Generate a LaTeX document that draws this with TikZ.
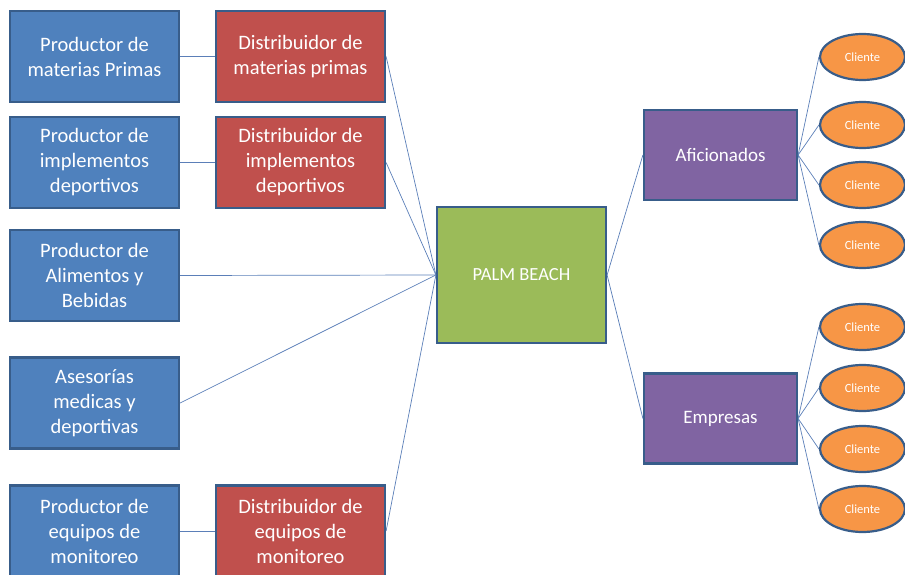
\documentclass[tikz,border=0pt]{standalone}
\usepackage{fontspec}
\setmainfont{Carlito}
\usetikzlibrary{shapes.geometric}

\definecolor{azul}{HTML}{4F81BD}
\definecolor{rojo}{HTML}{C0504D}
\definecolor{verde}{HTML}{9BBB59}
\definecolor{morado}{HTML}{8064A2}
\definecolor{naranja}{HTML}{F79646}
\definecolor{borde}{HTML}{385D8A}
\definecolor{linea}{HTML}{5B7FB8}

\begin{document}
\begin{tikzpicture}[x=1pt, y=-1pt,
  caja/.style={draw=borde, line width=2.2pt, minimum width=169pt, minimum height=91pt,
    inner sep=0pt, align=center, text=white, font=\fontsize{20.5}{25}\selectfont},
  productor/.style={caja, fill=azul},
  distribuidor/.style={caja, fill=rojo},
  segmento/.style={caja, fill=morado, minimum width=153pt, minimum height=90pt,
    font=\fontsize{19}{23}\selectfont},
  cliente/.style={ellipse, draw=borde, line width=2.2pt, fill=naranja, inner sep=0pt,
    minimum width=85pt, minimum height=46pt, text=white, font=\fontsize{12.5}{14}\selectfont},
  enlace/.style={draw=linea, line width=0.7pt}]
  \useasboundingbox (0, 0) rectangle (905, 575);

  % productores
  \node[productor] (prod1) at (94.5, 56.5) {Productor de\\materias Primas};
  \node[productor] (prod2) at (94.5, 162.5) {Productor de\\implementos\\deportivos};
  \node[productor] (prod3) at (94.5, 275.5) {Productor de\\Alimentos y\\Bebidas};
  \node[productor] (ases) at (94.5, 403) {Asesorías\\medicas y\\deportivas};
  \node[productor] (prod5) at (94.5, 531) {Productor de\\equipos de\\monitoreo};

  % distribuidores
  \node[distribuidor] (dist1) at (300.5, 56.5) {Distribuidor de\\materias primas};
  \node[distribuidor] (dist2) at (300.5, 162.5) {Distribuidor de\\implementos\\deportivos};
  \node[distribuidor] (dist5) at (300.5, 531) {Distribuidor de\\equipos de\\monitoreo};

  % empresa
  \node[caja, fill=verde, minimum height=136pt, font=\fontsize{18.5}{22}\selectfont]
    (palm) at (521.5, 275) {PALM BEACH};

  % segmentos
  \node[segmento] (afi) at (720.5, 155) {Aficionados};
  \node[segmento] (emp) at (720.5, 418.5) {Empresas};

  % clientes
  \node[cliente] (cli1) at (862.5, 57) {Cliente};
  \node[cliente] (cli2) at (862.5, 125) {Cliente};
  \node[cliente] (cli3) at (862.5, 185) {Cliente};
  \node[cliente] (cli4) at (862.5, 245) {Cliente};
  \node[cliente] (cli5) at (862.5, 327) {Cliente};
  \node[cliente] (cli6) at (862.5, 388) {Cliente};
  \node[cliente] (cli7) at (862.5, 449) {Cliente};
  \node[cliente] (cli8) at (862.5, 509) {Cliente};

  \draw[enlace] (prod1.east) -- (dist1.west);
  \draw[enlace] (prod2.east) -- (dist2.west);
  \draw[enlace] (prod5.east) -- (dist5.west);

  \draw[enlace] (dist1.east) -- (palm.west);
  \draw[enlace] (dist2.east) -- (palm.west);
  \draw[enlace] (prod3.east) -- (palm.west);
  \draw[enlace] (ases.east) -- (palm.west);
  \draw[enlace] (dist5.east) -- (palm.west);

  \draw[enlace] (palm.east) -- (afi.west);
  \draw[enlace] (palm.east) -- (emp.west);

  \foreach \c in {1,...,4}
    \draw[enlace] (afi.east) -- (cli\c.west);
  \foreach \c in {5,...,8}
    \draw[enlace] (emp.east) -- (cli\c.west);
\end{tikzpicture}
\end{document}
